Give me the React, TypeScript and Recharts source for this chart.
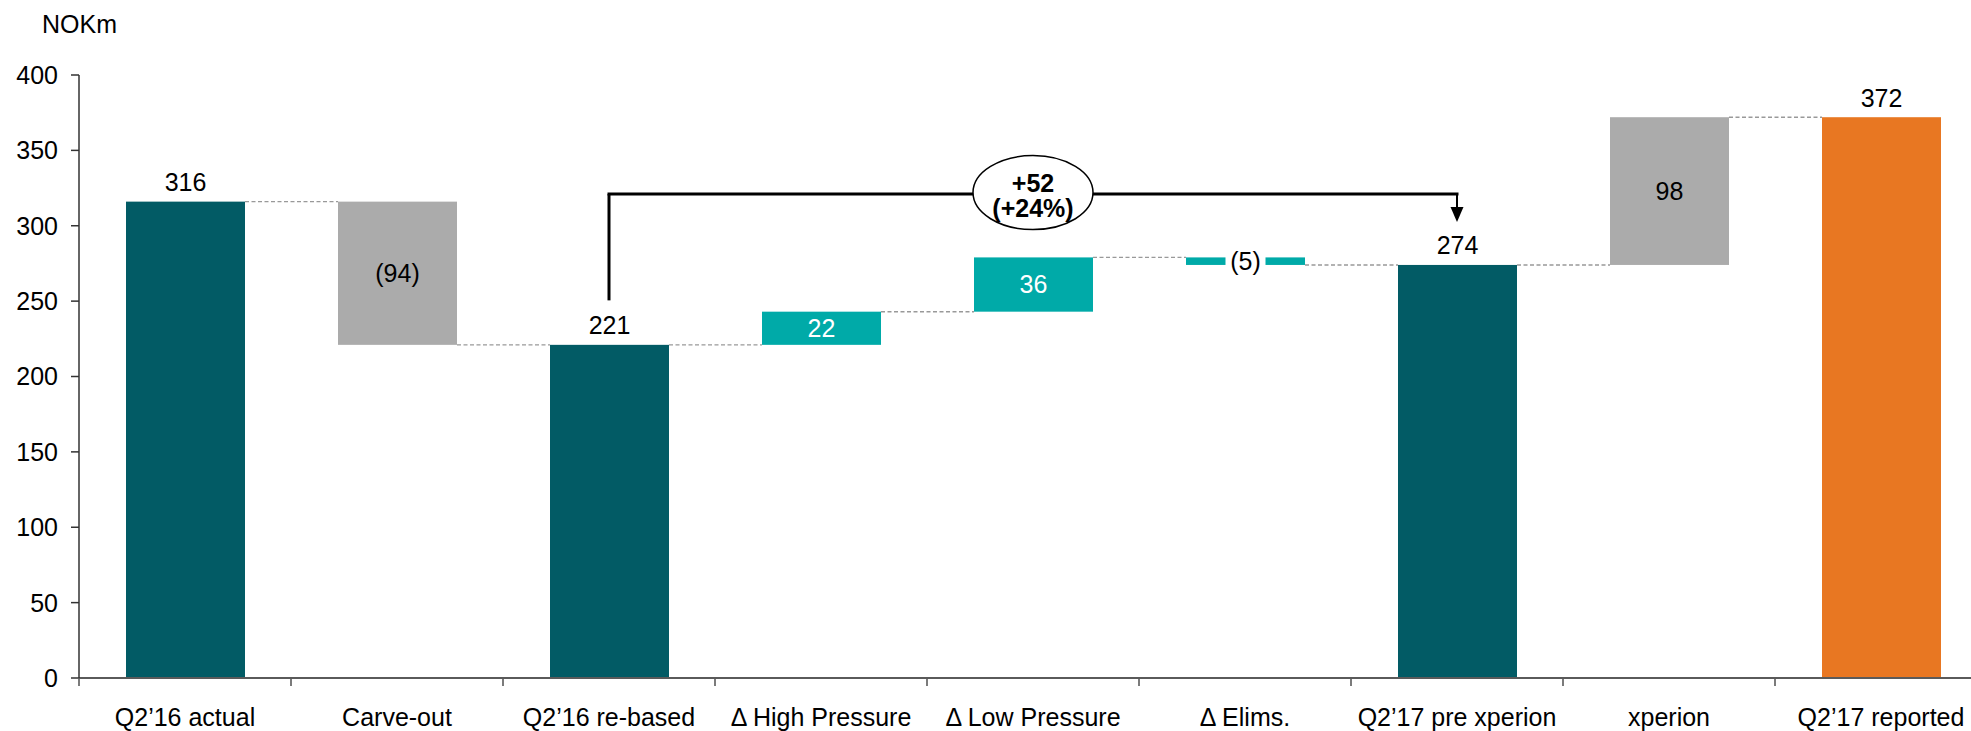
import React from 'react';
import { BarChart, Bar, XAxis, YAxis, ReferenceLine, ReferenceDot } from 'recharts';

// ---------- data ----------
const categories = [
  'Q2’16 actual',
  'Carve-out',
  'Q2’16 re-based',
  'Δ High Pressure',
  'Δ Low Pressure',
  'Δ Elims.',
  'Q2’17 pre xperion',
  'xperion',
  'Q2’17 reported',
];
const barLow = [0, 221, 0, 221, 243, 274, 0, 274, 0];
const barHigh = [316, 316, 221, 243, 279, 279, 274, 372, 372];
const valueLabels = ['316', '(94)', '221', '22', '36', '(5)', '274', '98', '372'];
const barKinds = ['total', 'decrease', 'total', 'increase', 'increase', 'decrease', 'total', 'increase', 'total'];
const yTicks = [0, 50, 100, 150, 200, 250, 300, 350, 400];
const unitLabel = 'NOKm';

// bracket annotation (values on the y scale)
const bracketFrom = 'Q2’16 re-based';
const bracketTo = 'Q2’17 pre xperion';
const bracketMid = 'Δ Low Pressure';
const bracketLevel = 321;
const bracketLegBottom = 250.5;
const bracketArrowTip = 302.5;
const bracketText = ['+52', '(+24%)'];

// ---------- styling ----------
const FONT = '"Liberation Sans", Arial, sans-serif';
const DARK = '#025b65';
const TEAL = '#00aaa8';
const GREY = '#ababab';
const ORANGE = '#e87722';
const FILLS = [DARK, GREY, DARK, TEAL, TEAL, TEAL, DARK, GREY, ORANGE];
const LABEL_MODE = ['above', 'inside', 'above', 'inside', 'inside', 'gap', 'above', 'inside', 'above'];
const LABEL_FILL = ['#000', '#000', '#000', '#fff', '#fff', '#000', '#000', '#000', '#000'];

const CHART_W = 2000;
const CHART_H = 731;
const MARGIN = { top: 75, right: 13, left: 0, bottom: 0 };
const Y_W = 79;
const X_H = 53;
const BAND = (CHART_W - MARGIN.left - MARGIN.right - Y_W) / categories.length;
const FS = 25;
const AXIS = '#5a5a5a';

const rows = categories.map((name, i) => ({
  name,
  range: [barLow[i], barHigh[i]],
  label: valueLabels[i],
  kind: barKinds[i],
}));

const renderBar = (props: any) => {
  const { x, y, width, height, index, payload } = props;
  const cx = x + width / 2;
  const out: React.ReactNode[] = [];
  out.push(<rect key="r" x={x} y={y} width={width} height={height} fill={FILLS[index]} />);
  if (index < rows.length - 1) {
    const ly = payload.kind === 'decrease' ? y + height : y;
    out.push(
      <line key="c" x1={x + width} x2={x + BAND} y1={ly} y2={ly} stroke="#999" strokeWidth={1.4} strokeDasharray="4 2.5" />
    );
  }
  const mode = LABEL_MODE[index];
  if (mode === 'above') {
    out.push(
      <text key="t" x={cx} y={y - 10.5} textAnchor="middle" fontSize={FS} fontFamily={FONT} fill={LABEL_FILL[index]}>
        {payload.label}
      </text>
    );
  } else {
    if (mode === 'gap') {
      out.push(<rect key="g" x={cx - 20} y={y - 2} width={40} height={height + 4} fill="#fff" />);
    }
    out.push(
      <text key="t" x={cx} y={y + height / 2} dy="0.355em" textAnchor="middle" fontSize={FS} fontFamily={FONT} fill={LABEL_FILL[index]}>
        {payload.label}
      </text>
    );
  }
  return <g>{out}</g>;
};

const XTick = (props: any) => {
  const { x, y, payload, index } = props;
  const axisY = y - 8 - 22;
  return (
    <g>
      <line x1={x - BAND / 2} x2={x - BAND / 2} y1={axisY} y2={axisY + 8} stroke={AXIS} strokeWidth={1.6} />
      {index === categories.length - 1 && (
        <line x1={x + BAND / 2} x2={x + BAND / 2} y1={axisY} y2={axisY + 8} stroke={AXIS} strokeWidth={1.6} />
      )}
      <text x={x} y={y} dy="0.71em" textAnchor="middle" fontSize={FS} fontFamily={FONT} fill="#000">
        {payload.value}
      </text>
    </g>
  );
};

const Ellipse = (props: any) => {
  const { cx, cy } = props;
  if (cx == null || cy == null) return null;
  return (
    <g>
      <ellipse cx={cx} cy={cy - 1.5} rx={60} ry={37} fill="#fff" stroke="#000" strokeWidth={1.5} />
      <text x={cx} y={cy - 2} textAnchor="middle" fontSize={25} fontWeight="bold" fontFamily={FONT} fill="#000">
        {bracketText[0]}
      </text>
      <text x={cx} y={cy + 22.5} textAnchor="middle" fontSize={25} fontWeight="bold" fontFamily={FONT} fill="#000">
        {bracketText[1]}
      </text>
    </g>
  );
};

const Arrow = (props: any) => {
  const { cx, cy } = props;
  if (cx == null || cy == null) return null;
  return <polygon points={`${cx - 6.5},${cy - 15} ${cx + 6.5},${cy - 15} ${cx},${cy}`} fill="#000" />;
};

export default function App() {
  return (
    <div style={{ position: 'absolute', left: 0, top: 0, width: 1971, height: 731, overflow: 'hidden', background: '#fff' }}>
      <svg width={200} height={50} style={{ position: 'absolute', left: 0, top: 0 }}>
        <text x={42} y={33} fontSize={FS} fontFamily={FONT} fill="#000">
          {unitLabel}
        </text>
      </svg>
      <BarChart width={CHART_W} height={CHART_H} data={rows} margin={MARGIN} barSize={119}>
        <XAxis
          dataKey="name"
          height={X_H}
          interval={0}
          tickLine={false}
          tickSize={8}
          tickMargin={22}
          axisLine={{ stroke: AXIS, strokeWidth: 1.8 }}
          tick={<XTick />}
        />
        <YAxis
          width={Y_W}
          domain={[0, 400]}
          ticks={yTicks}
          interval={0}
          tickSize={8}
          tickMargin={13}
          axisLine={{ stroke: '#333', strokeWidth: 1.5 }}
          tickLine={{ stroke: '#333', strokeWidth: 1.5 }}
          tick={{ fontSize: FS, fontFamily: FONT, fill: '#000' }}
        />
        <Bar dataKey="range" shape={renderBar} isAnimationActive={false} />
        <ReferenceLine
          segment={[{ x: bracketFrom, y: bracketLegBottom }, { x: bracketFrom, y: bracketLevel }]}
          stroke="#000"
          strokeWidth={3}
        />
        <ReferenceLine
          segment={[{ x: bracketFrom, y: bracketLevel }, { x: bracketTo, y: bracketLevel }]}
          stroke="#000"
          strokeWidth={3}
          strokeLinecap="square"
        />
        <ReferenceLine
          segment={[{ x: bracketTo, y: bracketLevel }, { x: bracketTo, y: bracketArrowTip + 8 }]}
          stroke="#000"
          strokeWidth={2}
        />
        <ReferenceDot x={bracketTo} y={bracketArrowTip} r={1} shape={<Arrow />} />
        <ReferenceDot x={bracketMid} y={bracketLevel} r={1} shape={<Ellipse />} />
      </BarChart>
    </div>
  );
}
